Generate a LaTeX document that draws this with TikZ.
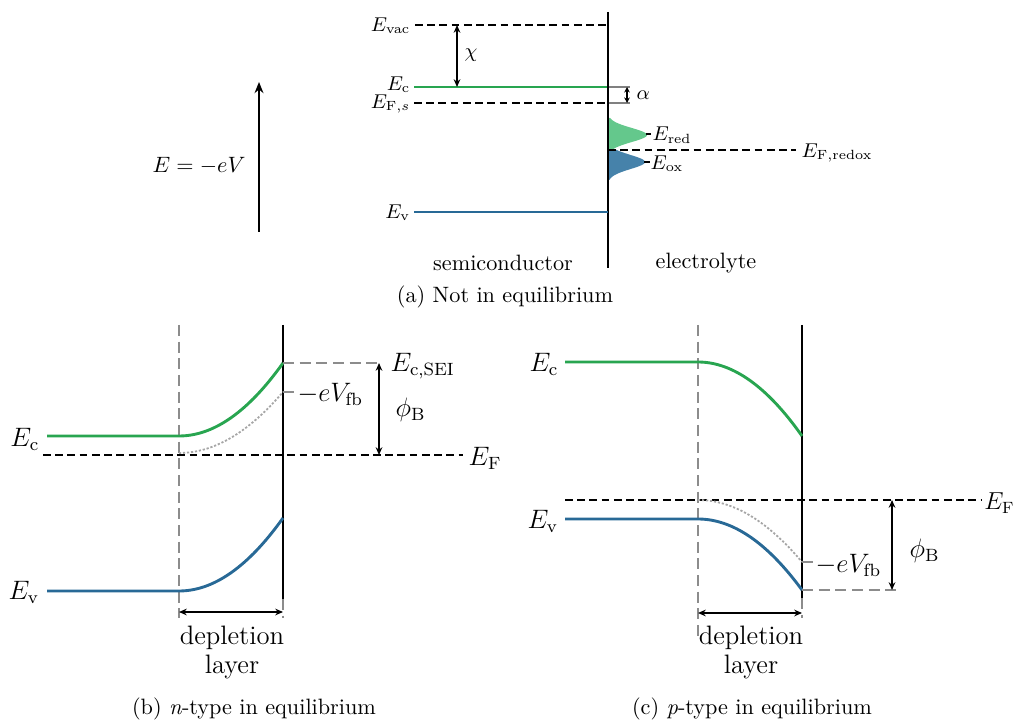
\documentclass[tikz,border=0pt]{standalone}
\usetikzlibrary{arrows.meta}
\definecolor{cgreen}{RGB}{40,165,80}
\definecolor{cblue}{RGB}{40,105,150}
\definecolor{lgreen}{RGB}{100,200,140}
\definecolor{lblue}{RGB}{70,130,170}
\begin{document}
\begin{tikzpicture}[x=0.45pt,y=-0.45pt,
  band/.style={line width=1.3pt},
  fermi/.style={dash pattern=on 3.5pt off 2pt, line width=0.7pt},
  guide/.style={black!45, dash pattern=on 5pt off 2.5pt, line width=0.6pt},
  fb/.style={black!35, dash pattern=on 1pt off 0.8pt, line width=0.8pt},
  iface/.style={line width=0.9pt},
  dim/.style={{Stealth[length=3.5pt,width=3pt]}-{Stealth[length=3.5pt,width=3pt]}, line width=0.7pt},
  laba/.style={font=\small, inner sep=1pt},
  labb/.style={font=\large, inner sep=1pt},
  txt/.style={inner sep=0pt}]
\useasboundingbox (0,0) rectangle (1014,722);

% ---------------- panel (a) ----------------
\coordinate (aT) at (608,12);
\coordinate (aB) at (608,268);

\coordinate (vacL) at (415,25); \coordinate (vacR) at (608,25);
\draw[fermi] (vacL) -- (vacR);
\node[laba, anchor=east] (Evac) at (413,26) {$E_{\mathrm{vac}}$};

\coordinate (ecL) at (414,87); \coordinate (ecR) at (608,87);
\draw[band, cgreen] (ecL) -- (ecR);
\node[laba, anchor=east] (Eca) at (413,85) {$E_{\mathrm{c}}$};

\coordinate (fsL) at (414,103); \coordinate (fsR) at (608,103);
\draw[fermi] (fsL) -- (fsR);
\node[laba, anchor=east] (Efs) at (413,104) {$E_{\mathrm{F},s}$};

\coordinate (chiT) at (457,25); \coordinate (chiB) at (457,87);
\draw[dim] (chiT) -- (chiB);
\node[laba, anchor=west] (chi) at (462,55) {$\chi$};

\coordinate (alT) at (630,87); \coordinate (alB) at (630,103);
\draw[black!50, line width=0.6pt] (ecR) -- (alT);
\draw[black!50, line width=0.6pt] (fsR) -- (alB);
\coordinate (alT2) at (627,87); \coordinate (alB2) at (627,103);
\draw[{Stealth[length=2.5pt,width=2.5pt]}-{Stealth[length=2.5pt,width=2.5pt]}, line width=0.6pt] (alT2) -- (alB2);
\node[laba, anchor=west] (alpha) at (634,95) {$\alpha$};

% gaussians
\fill[lgreen] (608,118) -- plot[domain=118:149, samples=50] ({608+39*exp(-((\x-135)/10)*((\x-135)/10))}, \x) -- (608,149) -- cycle;
\fill[lblue] (608,150) -- plot[domain=150:180, samples=50] ({608+37*exp(-((\x-162)/10)*((\x-162)/10))}, \x) -- (608,180) -- cycle;
\draw[iface] (aT) -- (aB);

\coordinate (redT) at (646,134); \coordinate (redL) at (651,134);
\draw[line width=0.5pt] (redT) -- (redL);
\node[laba, anchor=west] (Ered) at (650,135) {$E_{\mathrm{red}}$};
\coordinate (oxT) at (644,162); \coordinate (oxL) at (650,162);
\draw[line width=0.5pt] (oxT) -- (oxL);
\node[laba, anchor=west] (Eox) at (648,164) {$E_{\mathrm{ox}}$};

\coordinate (rxL) at (608,150); \coordinate (rxR) at (796,150);
\draw[fermi] (rxL) -- (rxR);
\node[laba, anchor=west] (Erx) at (799,153) {$E_{\mathrm{F,redox}}$};

\coordinate (evL) at (414,212); \coordinate (evR) at (608,212);
\draw[band, cblue] (evL) -- (evR);
\node[laba, anchor=east] (Eva) at (413,213) {$E_{\mathrm{v}}$};

\node[txt] (semi) at (503,263) {semiconductor};
\node[txt] (elec) at (706,263) {electrolyte};
\node[txt] (capa) at (505,297) {(a) Not in equilibrium};

\coordinate (axB) at (259,232); \coordinate (axT) at (259,82);
\draw[-{Stealth[length=5pt,width=4pt]}, line width=0.8pt] (axB) -- (axT);
\node[txt] (Eeq) at (199,166) {$E=-eV$};

% ---------------- panel (b) ----------------
\coordinate (bdT) at (179,325); \coordinate (bdB) at (179,618);
\draw[guide] (bdT) -- (bdB);
\coordinate (biT) at (283,325); \coordinate (biB) at (283,599);
\draw[iface] (biT) -- (biB);
\coordinate (biS) at (283,618);
\draw[guide] (biB) -- (biS);

\coordinate (bfL) at (43,455); \coordinate (bfR) at (463,455);
\draw[fermi] (bfL) -- (bfR);
\node[labb, anchor=west] (EFb) at (466,458) {$E_{\mathrm{F}}$};

\coordinate (bdot0) at (179,453); \coordinate (bdot1) at (283,392);
\draw[fb] (bdot0) .. controls (213.7,453) and (248.3,432.7) .. (bdot1);

\coordinate (bc0) at (47,436); \coordinate (bc1) at (179,436); \coordinate (bc2) at (283,363);
\draw[band, cgreen] (bc0) -- (bc1) .. controls (213.7,436) and (248.3,411.7) .. (bc2);
\node[labb, anchor=east] (Ecb) at (42,439) {$E_{\mathrm{c}}$};

\coordinate (bv0) at (47,591); \coordinate (bv1) at (179,591); \coordinate (bv2) at (283,518);
\draw[band, cblue] (bv0) -- (bv1) .. controls (213.7,591) and (248.3,566.7) .. (bv2);
\node[labb, anchor=east] (Evb) at (42,592) {$E_{\mathrm{v}}$};

\coordinate (bsei) at (381,363);
\draw[guide] (bc2) -- (bsei);
\node[labb, anchor=west] (Esei) at (388,366) {$E_{\mathrm{c,SEI}}$};
\coordinate (bphT) at (379,363); \coordinate (bphB) at (379,455);
\draw[dim] (bphT) -- (bphB);
\node[labb, anchor=west] (phib) at (393,410) {$\phi_{\mathrm{B}}$};
\coordinate (bfbS) at (295,392);
\draw[guide] (bdot1) -- (bfbS);
\node[labb, anchor=west] (fbb) at (295,394) {$-eV_{\mathrm{fb}}$};

\coordinate (bdl) at (179,612); \coordinate (bdr) at (283,612);
\draw[dim] (bdl) -- (bdr);
\node[txt, font=\large] (depb) at (232,638) {depletion};
\node[txt, font=\large] (layb) at (232,667) {layer};
\node[txt] (capb) at (254,709) {(b) \textit{n}-type in equilibrium};

% ---------------- panel (c) ----------------
\coordinate (cdT) at (698,325); \coordinate (cdB) at (698,640);
\draw[guide] (cdT) -- (cdB);
\coordinate (ciT) at (802,325); \coordinate (ciB) at (802,598);
\draw[iface] (ciT) -- (ciB);
\coordinate (ciS) at (802,618);
\draw[guide] (ciB) -- (ciS);

\coordinate (cfL) at (565,500); \coordinate (cfR) at (981,500);
\draw[fermi] (cfL) -- (cfR);
\node[labb, anchor=west, inner sep=0pt, scale=0.92] (EFc) at (984,503) {$E_{\mathrm{F}}$};

\coordinate (cdot0) at (698,500); \coordinate (cdot1) at (802,562);
\draw[fb] (cdot0) .. controls (732.7,500) and (767.3,520.7) .. (cdot1);

\coordinate (cc0) at (565,362); \coordinate (cc1) at (698,362); \coordinate (cc2) at (802,436);
\draw[band, cgreen] (cc0) -- (cc1) .. controls (732.7,362) and (767.3,386.7) .. (cc2);
\node[labb, anchor=east] (Ecc) at (561,364) {$E_{\mathrm{c}}$};

\coordinate (cv0) at (565,519); \coordinate (cv1) at (698,519); \coordinate (cv2) at (802,590);
\draw[band, cblue] (cv0) -- (cv1) .. controls (732.7,519) and (767.3,542.7) .. (cv2);
\node[labb, anchor=east] (Evc) at (561,521) {$E_{\mathrm{v}}$};

\coordinate (cgR) at (900,590);
\draw[guide] (cv2) -- (cgR);
\coordinate (cphT) at (892,500); \coordinate (cphB) at (892,590);
\draw[dim] (cphT) -- (cphB);
\node[labb, anchor=west] (phic) at (907,551) {$\phi_{\mathrm{B}}$};
\coordinate (cfbS) at (814,562);
\draw[guide] (cdot1) -- (cfbS);
\node[labb, anchor=west] (fbc) at (813,565) {$-eV_{\mathrm{fb}}$};

\coordinate (cdl) at (698,613); \coordinate (cdr) at (802,613);
\draw[dim] (cdl) -- (cdr);
\node[txt, font=\large] (depc) at (751,638) {depletion};
\node[txt, font=\large] (layc) at (751,667) {layer};
\node[txt] (capc) at (752,709) {(c) \textit{p}-type in equilibrium};
\end{tikzpicture}
\end{document}
